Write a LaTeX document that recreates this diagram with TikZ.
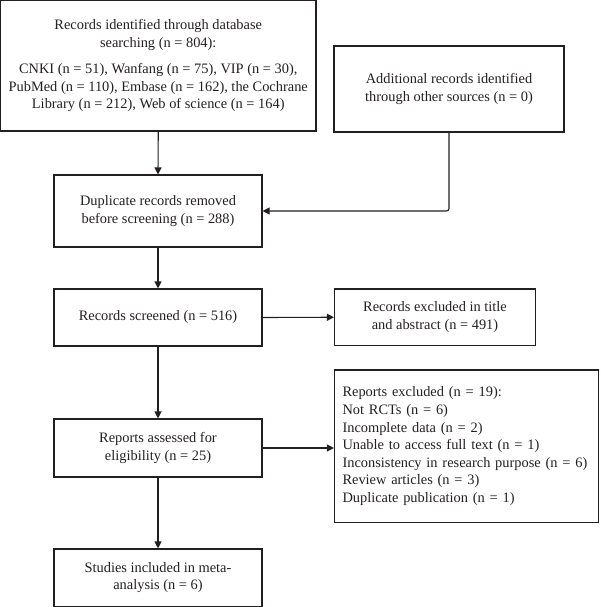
\documentclass[tikz,border=0pt]{standalone}
\usepackage{fontspec}
\setmainfont{Liberation Serif}
\usetikzlibrary{arrows.meta,calc}
\definecolor{ink}{RGB}{35,31,32}
\begin{document}
\begin{tikzpicture}[x=1pt,y=-1pt,
  box/.style={draw=ink,line width=1.1pt,inner sep=0pt,align=center,text=ink,
    font=\fontsize{14.4}{17.6}\selectfont},
  conn/.style={draw=ink,line width=1.1pt,-{Triangle[width=7pt,length=7pt]}}]
\useasboundingbox (0,0) rectangle (600,607);
\node[box,minimum width=315.5pt,minimum height=130.5pt] (ident) at (158.25,65.75)
  {Records identified through database\\searching (n = 804):\\[8.5pt]
   CNKI (n = 51), Wanfang (n = 75), VIP (n = 30),\\
   PubMed (n = 110), Embase (n = 162), the Cochrane\\
   Library (n = 212), Web of science (n = 164)};
\node[box,minimum width=230pt,minimum height=86pt] (other) at (449,89)
  {Additional records identified\\through other sources (n = 0)};
\node[box,minimum width=208pt,minimum height=72pt] (dup) at (158,211)
  {Duplicate records removed\\before screening (n = 288)};
\node[box,minimum width=208pt,minimum height=57pt] (screen) at (158,317.5)
  {Records screened (n = 516)};
\node[box,minimum width=201pt,minimum height=56.5pt] (excl) at (435,317.25)
  {Records excluded in title\\and abstract (n = 491)};
\node[box,minimum width=208pt,minimum height=58pt] (assess) at (158,448)
  {Reports assessed for\\eligibility (n = 25)};
\node[box,minimum width=264pt,minimum height=152.5pt,align=left,text width=248pt,inner xsep=8pt] (rexcl) at (466.5,446.25)
  {Reports excluded (n = 19):\\
   Not RCTs (n = 6)\\
   Incomplete data (n = 2)\\
   Unable to access full text (n = 1)\\
   Inconsistency in research purpose (n = 6)\\
   Review articles (n = 3)\\
   Duplicate publication (n = 1)};
\node[box,minimum width=208pt,minimum height=57.5pt] (incl) at (158,577.75)
  {Studies included in meta-\\analysis (n = 6)};
\coordinate (bend) at (other.south |- dup.east);
\draw[conn] (ident.south) -- (dup.north);
\draw[conn,rounded corners=2.5pt] (other.south) -- (bend) -- (dup.east);
\draw[conn] (dup.south) -- (screen.north);
\draw[conn] (screen.east) -- (excl.west);
\draw[conn] (screen.south) -- (assess.north);
\draw[conn] (assess.east) -- (assess.east -| rexcl.west);
\draw[conn] (assess.south) -- (incl.north);
\end{tikzpicture}
\end{document}
